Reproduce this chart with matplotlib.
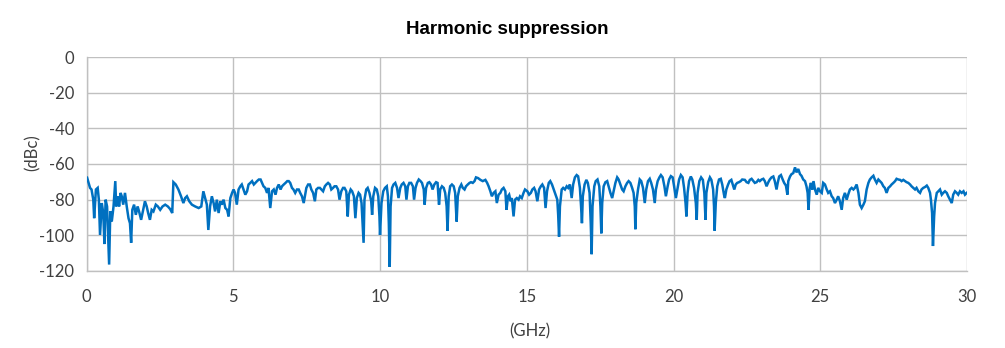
import matplotlib
matplotlib.use("Agg")
import matplotlib.pyplot as plt

# ---- data (frequency in GHz, level in dBc) ----
freq_a = [0.02, 0.07, 0.12, 0.17, 0.23, 0.26, 0.32, 0.38, 0.42, 0.46, 0.52, 0.57, 0.61, 0.65, 0.70,
          0.77, 0.81, 0.86, 0.92, 0.98, 1.01, 1.07, 1.11, 1.16, 1.20, 1.25, 1.31, 1.37, 1.43, 1.48,
          1.52, 1.56, 1.62, 1.68, 1.74, 1.79, 1.86, 1.93, 1.99, 2.05, 2.10, 2.16, 2.22, 2.28, 2.36,
          2.43, 2.51, 2.59, 2.68, 2.77, 2.85, 2.92, 2.96, 3.04, 3.13, 3.22, 3.30, 3.36, 3.42, 3.50,
          3.59, 3.70, 3.82, 3.91, 3.98, 4.04, 4.10, 4.15, 4.21, 4.27, 4.33, 4.38, 4.44, 4.50, 4.56,
          4.61, 4.67, 4.73, 4.79, 4.84, 4.90, 4.96, 5.01, 5.06, 5.12, 5.18, 5.24, 5.29, 5.35, 5.41,
          5.47, 5.52, 5.58, 5.64, 5.70, 5.75, 5.81, 5.87, 5.93, 5.97, 6.03, 6.09, 6.15, 6.20, 6.26,
          6.32, 6.38, 6.44, 6.49, 6.55, 6.61, 6.66, 6.72, 6.78, 6.84, 6.89, 6.94, 7.00, 7.05, 7.11,
          7.17, 7.23, 7.28, 7.34, 7.40]
dbc_a = [-67.7, -70.6, -73.4, -74.3, -80.0, -90.4, -74.3, -73.4, -80.0, -99.8, -81.9, -87.5, -104.9, -80.0, -83.8,
         -116.4, -86.6, -92.3, -83.8, -69.6, -83.8, -78.1, -83.8, -76.2, -78.1, -82.8, -76.2, -83.8, -90.4, -93.2,
         -104.2, -85.7, -82.8, -88.5, -83.8, -86.6, -91.3, -85.7, -80.9, -83.8, -87.5, -91.3, -85.7, -86.6, -82.8,
         -83.8, -85.7, -83.8, -82.8, -83.8, -85.3, -87.5, -70.2, -71.5, -74.3, -78.1, -81.9, -79.1, -78.1, -80.9,
         -82.8, -83.8, -84.7, -83.8, -75.3, -79.1, -82.8, -97.0, -83.8, -78.1, -81.9, -86.6, -80.0, -87.5, -80.9,
         -82.8, -80.0, -84.7, -85.7, -89.4, -79.1, -76.2, -74.3, -76.2, -82.8, -74.3, -72.5, -71.5, -74.3, -77.2,
         -75.3, -71.5, -70.6, -69.6, -71.5, -70.6, -69.6, -68.7, -68.7, -70.2, -72.5, -73.4, -76.2, -73.4, -84.7,
         -75.3, -74.3, -77.2, -73.4, -71.5, -74.3, -72.5, -71.5, -70.6, -69.6, -69.6, -70.6, -73.4, -74.3, -76.2,
         -74.3, -74.3, -76.2, -78.1, -81.9]

freq_b = [7.49, 7.55, 7.61, 7.66, 7.72, 7.78, 7.83, 7.89, 7.95, 8.00, 8.06, 8.12, 8.17, 8.23, 8.29,
          8.34, 8.40, 8.45, 8.51, 8.57, 8.62, 8.68, 8.74, 8.79, 8.85, 8.90, 8.94, 9.00, 9.05, 9.11,
          9.16, 9.21, 9.27, 9.32, 9.37, 9.40, 9.44, 9.47, 9.53, 9.58, 9.64, 9.70, 9.73, 9.77, 9.83,
          9.89, 9.94, 9.98, 10.00, 10.05, 10.11, 10.17, 10.23, 10.27, 10.30, 10.33, 10.36, 10.41, 10.46, 10.52,
          10.58, 10.63, 10.69, 10.74, 10.80, 10.86, 10.90, 10.95, 11.00, 11.06, 11.12, 11.16, 11.21, 11.26, 11.32,
          11.38, 11.43, 11.49, 11.52, 11.57, 11.63, 11.68, 11.74, 11.79, 11.85, 11.91, 11.96, 12.01, 12.05, 12.11,
          12.17, 12.22, 12.27, 12.30, 12.34, 12.39, 12.45, 12.51, 12.56, 12.61, 12.65, 12.71, 12.77, 12.82, 12.88,
          12.93, 12.99, 13.05, 13.10, 13.16, 13.22, 13.27, 13.34, 13.42, 13.50, 13.59, 13.65, 13.70, 13.76, 13.81,
          13.87, 13.93, 13.98, 14.04, 14.10, 14.15, 14.21, 14.27, 14.31, 14.36, 14.40, 14.45, 14.49, 14.55, 14.60,
          14.66, 14.72, 14.77, 14.83, 14.89, 14.94]
dbc_b = [-73.4, -71.5, -71.5, -74.3, -76.2, -80.9, -74.3, -73.4, -73.4, -74.3, -75.3, -72.5, -71.5, -70.6, -71.5,
         -74.3, -73.4, -72.5, -72.5, -74.3, -80.0, -75.3, -73.4, -73.4, -75.3, -89.4, -77.2, -74.3, -75.3, -78.1,
         -90.4, -79.1, -76.2, -77.2, -81.9, -91.3, -104.2, -80.0, -74.3, -73.4, -76.2, -80.9, -88.5, -78.1, -73.4,
         -74.3, -78.1, -89.4, -99.8, -81.9, -75.3, -73.4, -72.5, -78.1, -93.2, -117.7, -83.8, -73.4, -71.5, -70.6,
         -73.4, -79.1, -73.4, -71.5, -70.6, -72.5, -80.0, -72.5, -70.6, -70.6, -72.5, -80.0, -73.4, -70.6, -68.7,
         -69.6, -70.6, -74.3, -82.8, -73.4, -70.6, -70.2, -71.5, -74.3, -71.5, -70.2, -70.6, -82.8, -74.3, -72.5,
         -73.4, -76.2, -83.8, -97.4, -78.1, -72.5, -71.5, -72.5, -76.2, -92.3, -78.1, -73.4, -71.5, -73.4, -74.3,
         -72.5, -71.5, -70.6, -70.2, -70.6, -69.6, -67.5, -67.9, -68.9, -69.6, -68.9, -70.6, -72.5, -75.3, -78.1,
         -76.2, -75.3, -81.9, -77.2, -76.2, -74.3, -73.4, -75.3, -85.7, -78.1, -77.2, -80.9, -79.1, -89.4, -80.0,
         -79.1, -80.0, -78.1, -79.1, -76.2, -74.3]

freq_c = [15.02, 15.08, 15.14, 15.19, 15.25, 15.30, 15.36, 15.42, 15.48, 15.53, 15.59, 15.64, 15.69, 15.75, 15.80,
          15.86, 15.92, 15.98, 16.04, 16.07, 16.10, 16.13, 16.19, 16.24, 16.30, 16.36, 16.41, 16.47, 16.53, 16.58,
          16.64, 16.70, 16.75, 16.81, 16.85, 16.88, 16.91, 16.97, 17.03, 17.08, 17.14, 17.18, 17.21, 17.24, 17.30,
          17.35, 17.41, 17.47, 17.51, 17.54, 17.57, 17.62, 17.68, 17.74, 17.79, 17.85, 17.91, 17.96, 18.02, 18.08,
          18.13, 18.19, 18.25, 18.30, 18.36, 18.42, 18.47, 18.53, 18.59, 18.64, 18.68, 18.70, 18.73, 18.79, 18.85,
          18.90, 18.96, 19.02, 19.07, 19.13, 19.19, 19.24, 19.30, 19.36, 19.40, 19.46, 19.52, 19.57, 19.63, 19.69,
          19.74, 19.80, 19.85, 19.91, 19.97, 20.02, 20.08, 20.14, 20.19, 20.25, 20.31, 20.36, 20.41, 20.44, 20.48,
          20.53, 20.59, 20.64, 20.70, 20.76, 20.79, 20.82, 20.88, 20.94, 21.00, 21.05, 21.09, 21.12, 21.18, 21.24,
          21.29, 21.35, 21.38, 21.40, 21.44, 21.49, 21.55, 21.61, 21.66, 21.72, 21.75, 21.80, 21.86, 21.91, 21.97,
          22.02, 22.07, 22.12, 22.17, 22.23, 22.29, 22.34]
dbc_c = [-75.3, -77.2, -76.2, -74.3, -73.4, -75.3, -80.9, -74.3, -72.5, -71.5, -73.4, -84.7, -75.3, -70.6, -69.6,
         -71.5, -74.3, -77.2, -80.0, -88.5, -100.8, -83.8, -74.3, -73.4, -74.3, -72.5, -73.4, -71.5, -79.1, -71.5,
         -67.5, -66.2, -66.9, -73.4, -83.8, -93.2, -78.1, -71.5, -68.9, -70.6, -76.2, -93.2, -110.6, -83.8, -72.5,
         -69.6, -68.7, -72.5, -83.8, -98.9, -81.9, -72.5, -70.2, -69.6, -72.5, -76.2, -79.1, -75.3, -70.6, -67.5,
         -68.7, -71.5, -74.3, -75.3, -72.5, -70.6, -69.6, -70.6, -73.4, -76.2, -83.8, -96.6, -81.9, -74.3, -68.7,
         -69.6, -73.4, -81.9, -74.3, -69.6, -68.3, -70.6, -74.3, -81.9, -74.3, -69.6, -67.5, -66.2, -67.5, -72.5,
         -78.1, -72.5, -68.7, -66.8, -67.5, -72.5, -79.1, -73.4, -68.7, -66.2, -67.5, -73.4, -81.9, -89.4, -76.2,
         -69.6, -67.0, -68.7, -73.4, -81.9, -91.3, -76.2, -69.6, -67.5, -68.9, -76.2, -91.3, -76.2, -70.2, -67.5,
         -68.9, -74.3, -83.8, -97.4, -81.9, -72.5, -68.7, -68.3, -71.5, -77.2, -79.1, -74.3, -71.5, -69.6, -68.9,
         -71.5, -74.3, -71.5, -70.6, -70.2, -69.6, -68.7]

freq_d = [22.43, 22.49, 22.55, 22.60, 22.66, 22.72, 22.77, 22.83, 22.89, 22.94, 23.00, 23.06, 23.11, 23.17, 23.23,
          23.28, 23.34, 23.40, 23.45, 23.51, 23.55, 23.60, 23.66, 23.72, 23.77, 23.83, 23.88, 23.91, 23.97, 24.02,
          24.08, 24.14, 24.19, 24.25, 24.31, 24.36, 24.42, 24.48, 24.53, 24.57, 24.60, 24.64, 24.68, 24.73, 24.77,
          24.82, 24.88, 24.93, 24.99, 25.05, 25.10, 25.16, 25.22, 25.27, 25.33, 25.39, 25.44, 25.50, 25.56, 25.61,
          25.67, 25.73, 25.78, 25.84, 25.90, 25.95, 26.01, 26.07, 26.13, 26.18, 26.24, 26.30, 26.35, 26.41, 26.47,
          26.52, 26.58, 26.64, 26.69, 26.75, 26.81, 26.86, 26.92, 26.98, 27.03, 27.09, 27.15, 27.20, 27.26, 27.32,
          27.38, 27.43, 27.49, 27.55, 27.60, 27.66, 27.72, 27.77, 27.83, 27.89, 27.94, 28.00, 28.06, 28.11, 28.17,
          28.23, 28.28, 28.34, 28.40, 28.45, 28.51, 28.57, 28.63, 28.68, 28.74, 28.77, 28.81, 28.84, 28.88, 28.91,
          28.97, 29.02, 29.08, 29.14, 29.19, 29.25, 29.31, 29.36, 29.42, 29.48, 29.53, 29.59, 29.65, 29.70, 29.76,
          29.82, 29.88, 29.93, 29.99]
dbc_d = [-68.9, -70.2, -70.6, -68.9, -68.3, -69.6, -70.6, -70.2, -68.9, -69.6, -68.7, -68.3, -69.6, -72.5, -70.2,
         -68.7, -67.5, -67.0, -69.6, -74.3, -70.6, -67.0, -66.2, -68.7, -70.6, -72.1, -77.2, -69.6, -67.0, -65.7,
         -65.1, -61.9, -64.7, -62.8, -65.7, -66.6, -68.7, -69.6, -72.5, -76.2, -85.7, -73.4, -70.6, -74.3, -69.6,
         -74.3, -77.2, -73.4, -75.3, -76.2, -70.6, -71.5, -74.3, -76.2, -75.3, -78.1, -79.1, -81.9, -80.0, -78.1,
         -80.9, -85.7, -79.1, -76.2, -80.0, -77.2, -74.3, -73.4, -74.3, -73.4, -71.5, -76.2, -82.8, -84.7, -82.8,
         -80.9, -74.3, -70.6, -68.7, -67.5, -66.6, -68.7, -70.6, -68.7, -69.6, -70.6, -72.5, -73.4, -76.2, -73.4,
         -72.5, -71.5, -70.6, -69.6, -68.3, -68.7, -68.9, -69.6, -68.9, -69.6, -70.2, -70.6, -71.5, -72.5, -73.4,
         -74.3, -73.4, -75.3, -76.2, -74.3, -73.4, -72.9, -72.1, -73.4, -76.2, -80.0, -87.5, -106.0, -89.4, -81.9,
         -76.2, -75.3, -74.3, -77.2, -76.2, -75.3, -76.2, -78.1, -80.0, -81.9, -77.2, -75.3, -76.2, -77.2, -75.3,
         -76.2, -75.3, -77.2, -76.2]

freq = freq_a + freq_b + freq_c + freq_d
dbc = dbc_a + dbc_b + dbc_c + dbc_d

x_ticks = [0, 5, 10, 15, 20, 25, 30]
y_ticks = [0, -20, -40, -60, -80, -100, -120]
title = "Harmonic suppression"
x_label = "(GHz)"
y_label = "(dBc)"

# ---- figure ----
fig = plt.figure(figsize=(10.05, 3.48), dpi=100)
ax = fig.add_axes([0.0861, 0.2213, 0.8761, 0.6149])

grid_c = "#c0c0c0"
text_c = "#404040"

ax.plot(freq, dbc, color="#0070C0", lw=1.8, solid_joinstyle="miter", zorder=3)

ax.set_xlim(0, 30)
ax.set_ylim(-120, 0)
ax.set_xticks(x_ticks)
ax.set_yticks(y_ticks)
ax.set_xticklabels([str(v) for v in x_ticks])
ax.set_yticklabels([str(v) for v in y_ticks])
ax.grid(True, color=grid_c, lw=1.0, zorder=0)
for s in ax.spines.values():
    s.set_color(grid_c)
    s.set_linewidth(1.0)
ax.spines["top"].set_visible(False)
ax.spines["right"].set_visible(False)

ax.tick_params(axis="both", length=0, labelsize=12, colors=text_c)
ax.tick_params(axis="y", pad=9)
ax.tick_params(axis="x", pad=13)
for lab in ax.get_xticklabels() + ax.get_yticklabels():
    lab.set_fontfamily("Lato")

ax.set_ylabel(y_label, fontsize=12, color=text_c, family="Lato")
ax.yaxis.set_label_coords(-0.052, 0.554)
ax.set_xlabel(x_label, fontsize=12, color=text_c, family="Lato")
ax.xaxis.set_label_coords(0.504, -0.245)

fig.text(0.5045, 0.914, title, ha="center", va="center", fontsize=13.5,
         fontweight="bold", family="Liberation Sans", color="black")

fig.savefig("out.png", dpi=100)
